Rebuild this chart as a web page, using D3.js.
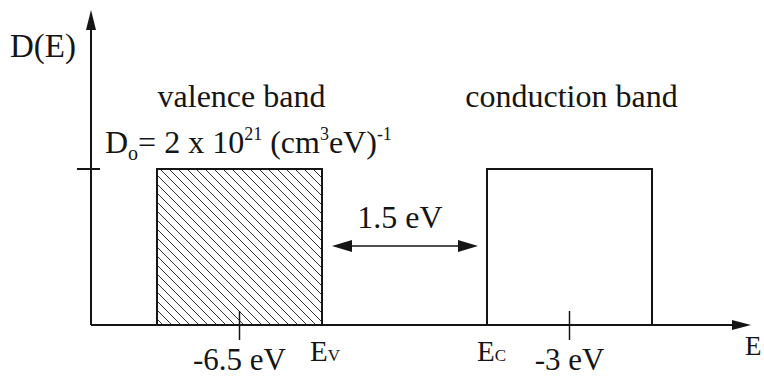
<!DOCTYPE html>
<html>
<head>
<meta charset="utf-8">
<script src="https://cdn.jsdelivr.net/npm/d3@7"></script>
<style>
  body { margin: 0; background: #fff; }
  text { font-family: "Liberation Serif", "Times New Roman", serif; fill: #151515; }
</style>
</head>
<body>
<div id="chart"></div>
<script>
// schematic energy axis (arbitrary units, not to scale) and D(E) in units of Do
let bands = ['valence band', 'conduction band']
let bandLo = [0.6, 3.6]
let bandHi = [2.1, 5.1]
let bandD = [1, 1]
let bandFill = ['hatch', 'none']
let centerPos = [1.35, 4.35]
let centerLabels = ['-6.5 eV', '-3 eV']
let edgePos = [2.1, 3.6]
let edgeSubs = ['V', 'C']
let gapLabel = '1.5 eV'

function main () {
  let W = 764
  let H = 377
  let x = d3.scaleLinear().domain([0, 6]).range([91, 751])
  let y = d3.scaleLinear().domain([0, 1]).range([325, 169])
  let ink = '#151515'

  let svg = d3.select('#chart').append('svg').attr('width', W).attr('height', H)
  svg.append('rect').attr('width', W).attr('height', H).attr('fill', '#fff')

  let defs = svg.append('defs')
  defs.append('pattern').attr('id', 'hatch').attr('patternUnits', 'userSpaceOnUse')
    .attr('width', 9).attr('height', 9)
    .append('path').attr('d', 'M0,0 L9,9 M-1,8 L1,10 M8,-1 L10,1')
    .attr('stroke', '#333').attr('stroke-width', 1)

  // bands
  svg.selectAll('rect.band').data(bands).enter().append('rect')
    .attr('class', 'band')
    .attr('x', (d, i) => x(bandLo[i]))
    .attr('y', (d, i) => y(bandD[i]))
    .attr('width', (d, i) => x(bandHi[i]) - x(bandLo[i]))
    .attr('height', (d, i) => y(0) - y(bandD[i]))
    .attr('fill', (d, i) => bandFill[i] === 'hatch' ? 'url(#hatch)' : 'none')
    .attr('stroke', ink).attr('stroke-width', 2)

  // axes
  svg.append('line').attr('x1', x(0)).attr('x2', x(6) - 8).attr('y1', y(0)).attr('y2', y(0))
    .attr('stroke', ink).attr('stroke-width', 2)
  svg.append('path').attr('d', `M${x(6)},${y(0)} L${x(6) - 19},${y(0) - 5} L${x(6) - 19},${y(0) + 5} Z`).attr('fill', ink)
  svg.append('line').attr('x1', x(0)).attr('x2', x(0)).attr('y1', y(0)).attr('y2', y(2.02) + 8)
    .attr('stroke', ink).attr('stroke-width', 2)
  svg.append('path').attr('d', `M${x(0)},${y(2.02)} L${x(0) - 5},${y(2.02) + 20} L${x(0) + 5},${y(2.02) + 20} Z`).attr('fill', ink)

  // Do tick on y axis
  svg.append('line').attr('x1', x(0) - 14).attr('x2', x(0) + 9).attr('y1', y(1)).attr('y2', y(1))
    .attr('stroke', ink).attr('stroke-width', 2)

  // centre ticks
  svg.selectAll('line.ctick').data(centerPos).enter().append('line')
    .attr('class', 'ctick')
    .attr('x1', (d) => x(d)).attr('x2', (d) => x(d))
    .attr('y1', y(0) - 14).attr('y2', y(0) + 15)
    .attr('stroke', ink).attr('stroke-width', 1.5)

  svg.selectAll('text.clab').data(centerLabels).enter().append('text')
    .attr('class', 'clab')
    .attr('x', (d, i) => x(centerPos[i]))
    .attr('y', 370)
    .attr('text-anchor', 'middle')
    .attr('font-size', 31)
    .text((d) => d)

  // band names
  svg.selectAll('text.bname').data(bands).enter().append('text')
    .attr('class', 'bname')
    .attr('x', (d, i) => x(centerPos[i]) + 2)
    .attr('y', 107)
    .attr('text-anchor', 'middle')
    .attr('font-size', 32)
    .text((d) => d)

  // band edge labels
  let edges = svg.selectAll('text.edge').data(edgeSubs).enter().append('text')
    .attr('class', 'edge')
    .attr('x', (d, i) => x(edgePos[i]) - (i === 0 ? 12 : 10))
    .attr('y', 361)
    .attr('font-size', 29)
  edges.append('tspan').text('E')
  edges.append('tspan').attr('font-size', 17).attr('dy', 0).text((d) => d)

  // energy axis label
  svg.append('text').attr('x', 745).attr('y', 355).attr('font-size', 27).text('E')

  // D(E)
  svg.append('text').attr('x', 10).attr('y', 57).attr('font-size', 33).text('D(E)')

  // Do value
  let dt = svg.append('text').attr('x', 105).attr('y', 153).attr('font-size', 32)
  dt.append('tspan').text('D')
  dt.append('tspan').attr('font-size', 20).attr('dy', 7).text('o')
  dt.append('tspan').attr('dy', -7).text('= 2 x 10')
  dt.append('tspan').attr('font-size', 18).attr('dy', -13).text('21')
  dt.append('tspan').attr('dy', 13).text(' (cm')
  dt.append('tspan').attr('font-size', 18).attr('dy', -13).text('3')
  dt.append('tspan').attr('dy', 13).text('eV)')
  dt.append('tspan').attr('font-size', 18).attr('dy', -13).text('-1')

  // band gap arrow
  let gy = 246
  let gx1 = x(bandHi[0]) + 10
  let gx2 = x(bandLo[1]) - 9
  svg.append('line').attr('x1', gx1 + 10).attr('x2', gx2 - 10).attr('y1', gy).attr('y2', gy)
    .attr('stroke', ink).attr('stroke-width', 1.5)
  svg.append('path').attr('d', `M${gx1},${gy} L${gx1 + 20},${gy - 6} L${gx1 + 20},${gy + 6} Z`).attr('fill', ink)
  svg.append('path').attr('d', `M${gx2},${gy} L${gx2 - 20},${gy - 6} L${gx2 - 20},${gy + 6} Z`).attr('fill', ink)
  svg.append('text').attr('x', (gx1 + gx2) / 2 - 5).attr('y', 228).attr('text-anchor', 'middle')
    .attr('font-size', 32).text(gapLabel)
}

main()
</script>
</body>
</html>
